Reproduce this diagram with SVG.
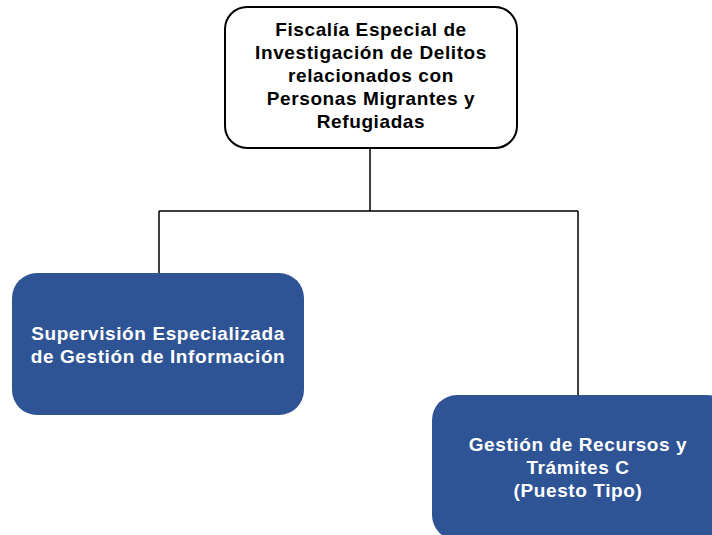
<svg xmlns="http://www.w3.org/2000/svg" width="712" height="535" viewBox="0 0 712 535">
<style>
.t{font-family:"Liberation Sans",Arial,sans-serif;font-weight:bold;font-size:19px;letter-spacing:0.6px;text-anchor:middle}
.dark{fill:#000}
.light{fill:#fff}
.blue{fill:#2E5496}
.conn{fill:none;stroke:#000;stroke-width:1.5}
</style>
<rect width="712" height="535" fill="#fff"/>
<g id="connectors">
<path class="conn" d="M370,149 V211 M159,211 H578 M159,211 V274 M578,211 V396"/>
</g>
<g id="node-fiscalia">
<rect x="225" y="7" width="292" height="141" rx="22" fill="#fff" stroke="#000" stroke-width="2"/>
<text class="t dark" x="371" y="36">Fiscalía Especial de</text>
<text class="t dark" x="371" y="59">Investigación de Delitos</text>
<text class="t dark" x="371" y="82">relacionados con</text>
<text class="t dark" x="371" y="105">Personas Migrantes y</text>
<text class="t dark" x="371" y="128">Refugiadas</text>
</g>
<g id="node-supervision">
<rect class="blue" x="12" y="273" width="292" height="142" rx="25"/>
<text class="t light" x="158" y="340">Supervisión Especializada</text>
<text class="t light" x="158" y="363">de Gestión de Información</text>
</g>
<g id="node-gestion">
<rect class="blue" x="432" y="395" width="300" height="145" rx="25"/>
<text class="t light" x="578" y="451">Gestión de Recursos y</text>
<text class="t light" x="578" y="474">Trámites C</text>
<text class="t light" x="578" y="497">(Puesto Tipo)</text>
</g>
</svg>
